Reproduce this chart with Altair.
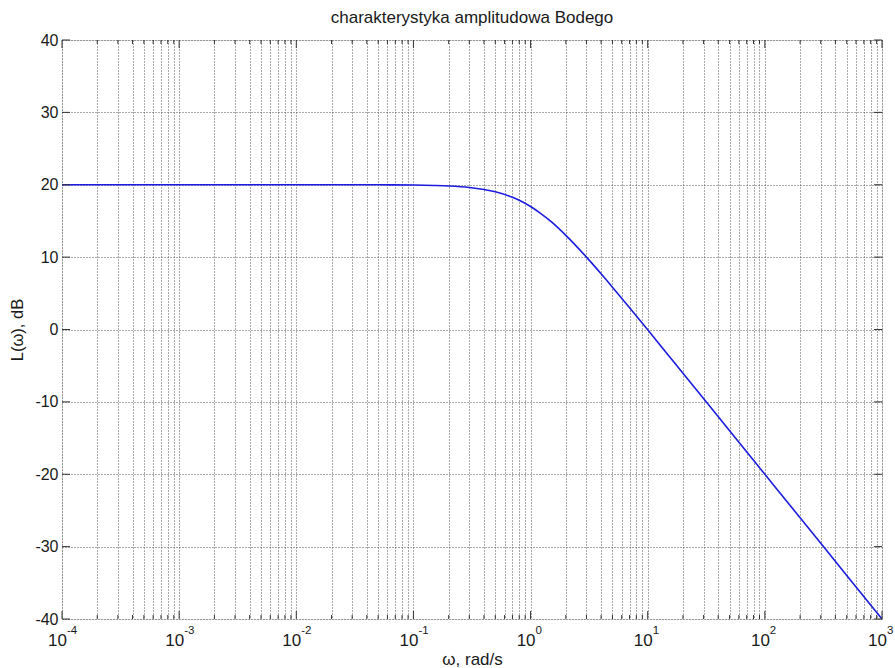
import altair as alt
import pandas as pd

# Values
omega = [1e-4, 1e-3, 1e-2, 0.05, 0.1, 0.15, 0.2, 0.3, 0.4, 0.5, 0.7, 0.8, 1.0,
         1.2, 1.5, 2.0, 3.0, 4.0, 5.0, 7.0, 10.0, 15.0, 20.0, 50.0, 100.0,
         200.0, 500.0, 1000.0]
L_db = [20.0, 20.0, 20.0, 19.99, 19.96, 19.9, 19.83, 19.63, 19.35, 19.03, 18.26,
        17.85, 16.99, 16.12, 14.9, 13.01, 10.0, 7.7, 5.85, 3.01, -0.04, -3.55,
        -6.03, -13.98, -20.0, -26.02, -33.98, -40.0]

major_x = [1e-4, 1e-3, 1e-2, 1e-1, 1e0, 1e1, 1e2, 1e3]
major_exp = ["-4", "-3", "-2", "-1", "0", "1", "2", "3"]
minor_mult = [2, 3, 4, 5, 6, 7, 8, 9]
y_ticks = [-40, -30, -20, -10, 0, 10, 20, 30, 40]

title_text = "charakterystyka amplitudowa Bodego"
x_title = "ω, rad/s"
y_title = "L(ω), dB"

W, H = 820, 579
FONT = "Liberation Sans"
GRID = "#555555"
TXT = "#1a1a1a"

minor_x = [m * d for d in major_x[:-1] for m in minor_mult]
all_x = sorted(major_x + minor_x)

curve = pd.DataFrame({"w": omega, "L": L_db})
majors = pd.DataFrame({"w": major_x, "exp": major_exp, "base": ["10"] * len(major_x)})
minors = pd.DataFrame({"w": minor_x})
ydf = pd.DataFrame({"y": y_ticks})

xscale = alt.Scale(type="log", domain=[1e-4, 1e3], nice=False)
yscale = alt.Scale(domain=[-40, 40], nice=False, zero=False)

line = alt.Chart(curve).mark_line(color="#1c1ce0", strokeWidth=1.6, interpolate="monotone").encode(
    x=alt.X("w:Q", scale=xscale,
            axis=alt.Axis(values=all_x, labels=False, ticks=False, domain=False,
                          grid=True, gridColor=GRID, gridDash=[1, 2], gridWidth=1, gridOpacity=1,
                          title=x_title, titleFont=FONT, titleFontSize=17, titleFontWeight="normal",
                          titleColor=TXT, titleX=W / 2, titleY=45, titleBaseline="alphabetic",
                          titleAlign="center")),
    y=alt.Y("L:Q", scale=yscale,
            axis=alt.Axis(values=y_ticks, grid=True, gridColor=GRID, gridDash=[1, 2], gridWidth=1,
                          gridOpacity=1, domain=False, ticks=False,
                          labelExpr="toString(datum.value)",
                          labelFont=FONT, labelFontSize=16, labelColor=TXT, labelPadding=4,
                          title=y_title, titleFont=FONT, titleFontSize=16.5, titleFontWeight="normal",
                          titleColor=TXT, titleX=-45, titleY=H / 2, titleAngle=270,
                          titleAlign="center", titleBaseline="middle")),
)

# inward tick marks (MATLAB style)
def xtick(df, y0, y1):
    return alt.Chart(df).mark_rule(color="#333", strokeWidth=1).encode(
        x=alt.X("w:Q", scale=xscale), y=alt.value(y0), y2=alt.value(y1))

def ytick(x0, x1):
    return alt.Chart(ydf).mark_rule(color="#333", strokeWidth=1).encode(
        y=alt.Y("y:Q", scale=yscale), x=alt.value(x0), x2=alt.value(x1))

ticks = [
    xtick(majors, 0, 8), xtick(majors, H - 8, H),
    xtick(minors, 0, 4), xtick(minors, H - 4, H),
    ytick(0, 8), ytick(W - 8, W),
]

base_lbl = alt.Chart(majors).mark_text(font=FONT, fontSize=17, color=TXT, align="right",
                                       baseline="alphabetic", dx=5).encode(
    x=alt.X("w:Q", scale=xscale), y=alt.value(H + 27), text="base:N")
exp_lbl = alt.Chart(majors).mark_text(font=FONT, fontSize=11.5, color=TXT, align="left",
                                      baseline="alphabetic", dx=5).encode(
    x=alt.X("w:Q", scale=xscale), y=alt.value(H + 15), text="exp:N")

chart = alt.layer(line, *ticks, base_lbl, exp_lbl).properties(
    width=W, height=H,
    title=alt.TitleParams(title_text, font=FONT, fontSize=17, fontWeight="normal", color=TXT,
                          anchor="middle", frame="group", offset=5),
    autosize=alt.AutoSizeParams(type="none"),
    padding={"left": 62, "top": 40, "right": 13, "bottom": 49},
).configure_view(stroke="#333", strokeWidth=1).configure(background="white")

chart.save("out.html", embed_options={"renderer": "svg", "actions": False})
